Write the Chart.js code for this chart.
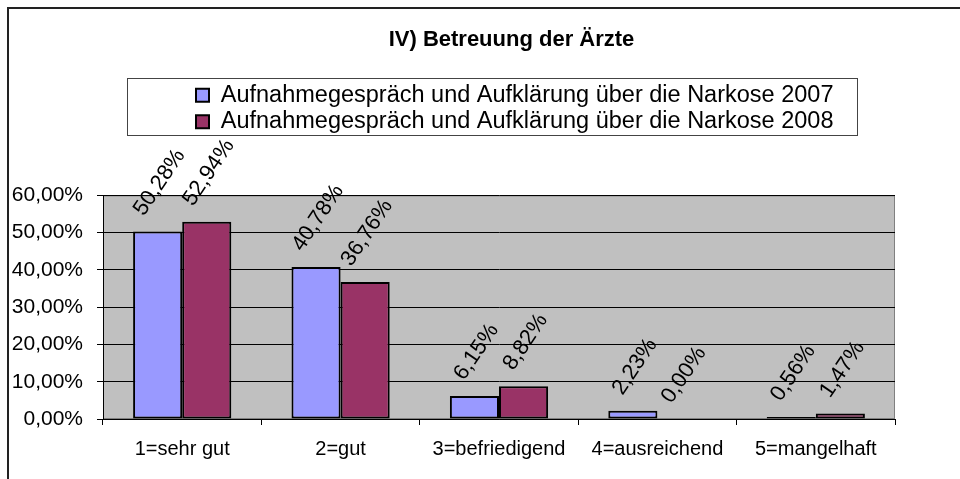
<!DOCTYPE html>
<html>
<head>
<meta charset="utf-8">
<script src="https://cdn.jsdelivr.net/npm/chart.js@4.4.0/dist/chart.umd.min.js"></script>
<style>
  html, body { margin: 0; padding: 0; background: #fff; }
  #wrap { width: 960px; height: 479px; position: relative; }
</style>
</head>
<body>
<div id="wrap"><canvas id="grafica" width="960" height="479"></canvas></div>
<script>
const kategorien = ['1=sehr gut', '2=gut', '3=befriedigend', '4=ausreichend', '5=mangelhaft'];
const werte2007 = [50.28, 40.78, 6.15, 2.23, 0.56];
const werte2008 = [52.94, 36.76, 8.82, 0.00, 1.47];
const serienNamen = [
    'Aufnahmegespräch und Aufklärung über die Narkose 2007',
    'Aufnahmegespräch und Aufklärung über die Narkose 2008'
];
const titel = 'IV) Betreuung der Ärzte';

const schrift = "'Liberation Sans', Arial, sans-serif";
const legendeGroesse = 23.5;
const legendeBox = 13;

function formatoProzent(v) {
    return v.toFixed(2).replace('.', ',') + '%';
}

function legendeBreite(ctx) {
    ctx.save();
    ctx.font = legendeGroesse + 'px ' + schrift;
    const textW = Math.max(...serienNamen.map(s => ctx.measureText(s).width));
    ctx.restore();
    return legendeBox + legendeGroesse / 2 + textW;
}

// Rahmen, Plotfläche grau, Legendenrahmen, Abstand unter der Legende
const excelStil = {
    id: 'excelStil',
    beforeInit(chart) {
        const fit = chart.legend.fit;
        chart.legend.fit = function() {
            fit.bind(chart.legend)();
            this.height += 52;
        };
    },
    afterLayout(chart) {
        const lg = chart.legend;
        const itemW = legendeBreite(chart.ctx);
        const verschiebung = 196 - (lg.left + lg.right - itemW) / 2;
        lg.left += verschiebung;
        lg.right += verschiebung;
        lg.adjustHitBoxes();
        const tt = chart.titleBlock;
        if (tt) {
            tt.left += 60;
            tt.right += 60;
        }
    },
    beforeDraw(chart) {
        const ctx = chart.ctx;
        const a = chart.chartArea;
        ctx.save();
        ctx.fillStyle = '#fff';
        ctx.fillRect(0, 0, chart.width, chart.height);
        // äußerer Rahmen (oben, links)
        ctx.strokeStyle = '#222';
        ctx.lineWidth = 2;
        ctx.beginPath();
        ctx.moveTo(960, 8);
        ctx.lineTo(8, 8);
        ctx.lineTo(8, 479);
        ctx.stroke();
        // Plotfläche
        ctx.fillStyle = '#c0c0c0';
        ctx.fillRect(a.left, a.top, a.right - a.left, a.bottom - a.top);
        ctx.strokeStyle = '#808080';
        ctx.lineWidth = 1;
        ctx.strokeRect(a.left + 0.5, a.top + 0.5, a.right - a.left - 1, a.bottom - a.top - 1);
        // Legendenrahmen
        const lg = chart.legend;
        const itemW = legendeBreite(ctx);
        const start = (lg.left + lg.right - itemW) / 2;
        const l = Math.round(start - 69);
        const r = Math.round(start + itemW + 24);
        const t = Math.round(lg.top - 2);
        const b = Math.round(lg.top + 55);
        ctx.strokeStyle = '#444';
        ctx.strokeRect(l + 0.5, t + 0.5, r - l, b - t);
        ctx.restore();
    },
    afterDraw(chart) {
        // Datenbeschriftungen, gedreht
        const ctx = chart.ctx;
        const winkel = -56 * Math.PI / 180;
        const groesse = 22;
        ctx.save();
        ctx.font = groesse + 'px ' + schrift;
        ctx.fillStyle = '#000';
        ctx.textAlign = 'center';
        ctx.textBaseline = 'middle';
        chart.data.datasets.forEach((ds, i) => {
            chart.getDatasetMeta(i).data.forEach((bar, j) => {
                const txt = formatoProzent(ds.data[j]);
                const w = ctx.measureText(txt).width;
                const halb = (w * Math.sin(-winkel) + groesse * Math.cos(winkel)) / 2;
                const cy = bar.y - 12 - halb;
                ctx.save();
                ctx.translate(bar.x + 2, cy);
                ctx.rotate(winkel);
                ctx.fillText(txt, 0, 0);
                ctx.restore();
            });
        });
        ctx.restore();
    }
};

const ctx = document.getElementById('grafica').getContext('2d');
new Chart(ctx, {
    type: 'bar',
    data: {
        labels: kategorien,
        datasets: [{
            label: serienNamen[0],
            data: werte2007,
            backgroundColor: '#9999ff',
            borderColor: '#000',
            borderWidth: 2,
            borderSkipped: false,
            categoryPercentage: 0.62,
            barPercentage: 1.0
        }, {
            label: serienNamen[1],
            data: werte2008,
            backgroundColor: '#993366',
            borderColor: '#000',
            borderWidth: 2,
            borderSkipped: false,
            categoryPercentage: 0.62,
            barPercentage: 1.0
        }]
    },
    options: {
        responsive: false,
        animation: false,
        devicePixelRatio: 1,
        layout: { padding: { top: 8, left: 8, right: 65, bottom: 6 } },
        plugins: {
            title: {
                display: true,
                text: titel,
                color: '#000',
                font: { family: schrift, size: 22, weight: 'bold' },
                padding: { top: 19, bottom: 27 }
            },
            legend: {
                display: true,
                position: 'top',
                labels: {
                    color: '#000',
                    font: { family: schrift, size: legendeGroesse },
                    boxWidth: legendeBox,
                    boxHeight: legendeBox,
                    padding: 3
                }
            },
            tooltip: { enabled: false }
        },
        scales: {
            x: {
                ticks: {
                    color: '#000',
                    font: { family: schrift, size: 20 },
                    padding: 12,
                    maxRotation: 0
                },
                grid: {
                    offset: true,
                    drawOnChartArea: false,
                    drawTicks: true,
                    tickLength: 6,
                    color: '#000'
                },
                border: { display: true, color: '#000', width: 1 }
            },
            y: {
                min: 0,
                max: 60,
                ticks: {
                    stepSize: 10,
                    color: '#000',
                    font: { family: schrift, size: 21 },
                    padding: 14,
                    callback: function(v) { return formatoProzent(v); }
                },
                grid: { color: '#000', lineWidth: 1, tickLength: 6 },
                border: { display: true, color: '#000', width: 1 },
                afterFit(scale) { scale.width = 95; }
            }
        }
    },
    plugins: [excelStil]
});
</script>
</body>
</html>
